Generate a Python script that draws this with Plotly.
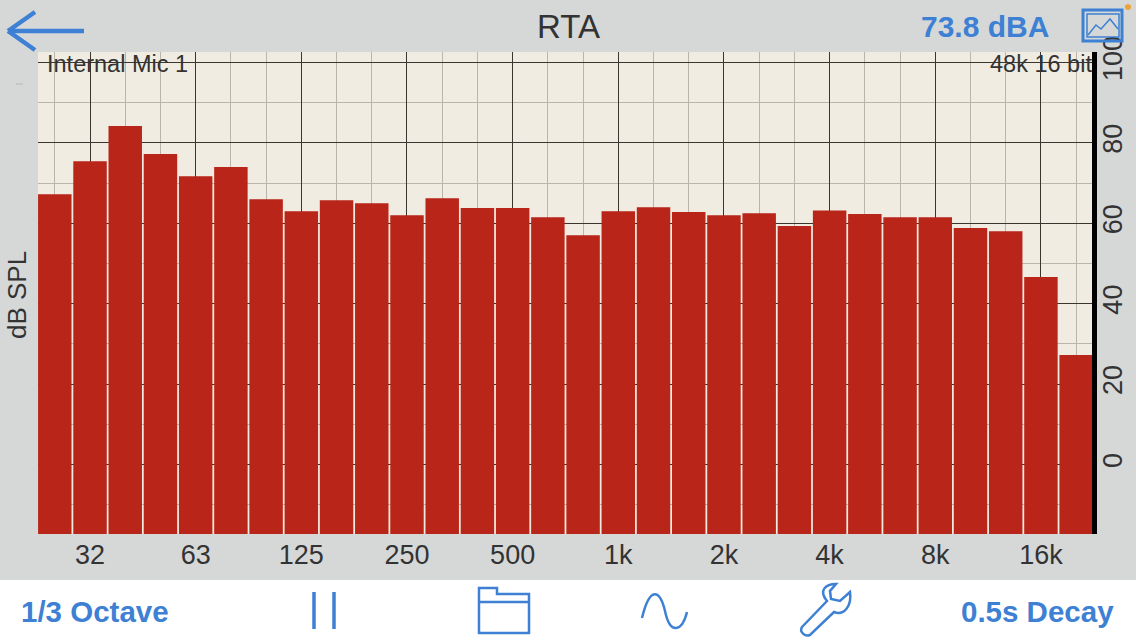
import plotly.graph_objects as go

W = 1136
H = 640

# 1/3 octave bands, 25 Hz to 20 kHz
bands = ['25', '32', '40', '50', '63', '80', '100', '125', '160', '200',
         '250', '315', '400', '500', '630', '800', '1k', '1.25k', '1.6k', '2k',
         '2.5k', '3.15k', '4k', '5k', '6.3k', '8k', '10k', '12.5k', '16k', '20k']
levels = [67.2, 75.4, 84.2, 77.2, 71.7, 74.0, 66.0, 63.0, 65.7, 65.0,
          62.0, 66.2, 63.8, 63.8, 61.5, 57.0, 63.0, 64.0, 62.8, 62.0,
          62.5, 59.3, 63.2, 62.3, 61.5, 61.5, 58.8, 58.0, 46.6, 27.2]
labelled_bands = ['32', '63', '125', '250', '500', '1k', '2k', '4k', '8k', '16k']
db_ticks = [0, 20, 40, 60, 80, 100]
db_minor = [-10, 10, 30, 50, 70, 90]
db_floor = -17.3
db_ceil = 102.6

BLUE = '#3d80d4'
RED = '#b92518'
GREY = '#d6d8d8'
CREAM = '#f0ece1'
INK = '#333333'
FONT = 'Liberation Sans'


def px(x):
    return x / W


def py(y):
    return 1 - y / H


def line(x0, y0, x1, y1, width=2.5, color=BLUE):
    return dict(type='line', xref='paper', yref='paper', x0=px(x0), y0=py(y0), x1=px(x1), y1=py(y1),
                line=dict(color=color, width=width))


def rect(x0, y0, x1, y1, width=2.5, color=BLUE, fill='rgba(0,0,0,0)', layer='above'):
    return dict(type='rect', xref='paper', yref='paper', x0=px(x0), y0=py(y0), x1=px(x1), y1=py(y1),
                line=dict(color=color, width=width), fillcolor=fill, layer=layer)


def path(points, width=2.5):
    # icon outline: list of svg commands with pixel coordinates
    parts = []
    for p in points:
        if isinstance(p, str):
            parts.append(p)
        else:
            parts.append(f'{px(p[0]):.5f},{py(p[1]):.5f}')
    return dict(type='path', xref='paper', yref='paper', path=' '.join(parts),
                line=dict(color=BLUE, width=width), fillcolor='rgba(0,0,0,0)')


def text(x, y, s, size, color=INK, bold=False, anchor='center', angle=0):
    if bold:
        s = f'<b>{s}</b>'
    return dict(xref='paper', yref='paper', x=px(x), y=py(y), text=s, showarrow=False, textangle=angle,
                xanchor=anchor, yanchor='middle', font=dict(family=FONT, size=size, color=color))


fig = go.Figure()
# bars start at the bottom of the plot, so heights are measured from there
fig.add_trace(go.Bar(x=list(range(len(bands))), y=[v - db_floor for v in levels], base=db_floor, width=0.95,
                     marker=dict(color=RED, line=dict(width=0))))

fig.update_layout(
    width=W, height=H, margin=dict(l=0, r=0, t=0, b=0),
    paper_bgcolor=GREY, plot_bgcolor=CREAM, showlegend=False,
    font=dict(family=FONT, color=INK),
)
fig.update_xaxes(
    domain=[px(38), px(1092)], range=[-0.477, 29.45], automargin=False,
    tickmode='array', tickvals=[bands.index(b) for b in labelled_bands], ticktext=labelled_bands,
    tickfont=dict(size=27, color=INK), ticks='', ticklabelstandoff=2,
    showgrid=True, gridcolor='#3a352e', gridwidth=1, zeroline=False, showline=False,
    minor=dict(tickmode='array', tickvals=[i for i, b in enumerate(bands) if b not in labelled_bands],
               showgrid=True, gridcolor='#b9b5ab', gridwidth=1, ticks=''),
)
fig.update_yaxes(
    domain=[1 - 534 / H, 1 - 52 / H], range=[db_floor, db_ceil], side='right', automargin=False,
    tickmode='array', tickvals=db_ticks, tickangle=-90,
    tickfont=dict(size=27, color=INK), ticks='', ticklabelstandoff=-7,
    showgrid=True, gridcolor='#3a352e', gridwidth=1, zeroline=False,
    showline=True, linecolor='black', linewidth=5,
    minor=dict(tickmode='array', tickvals=db_minor, showgrid=True, gridcolor='#b9b5ab', gridwidth=1, ticks=''),
)

shapes = [
    # white toolbar
    rect(0, 580, W, H, width=0, color=None, fill='white', layer='below'),
    # back arrow
    line(8, 31, 84, 31, 4.5), line(8, 31, 35, 12, 4.5), line(8, 31, 35, 50, 4.5),
    # stray tick left of the plot
    line(16, 84, 23, 84, 1, '#b5b7b7'),
    # image button
    rect(1083, 10, 1122, 41, 3), rect(1087, 14, 1119, 37, 1.5),
    path(['M', (1088, 35), 'L', (1096, 25), 'L', (1101, 29), 'L', (1110, 19), 'L', (1118, 29)], 1.5),
    dict(type='circle', xref='paper', yref='paper', x0=px(1125), y0=py(4), x1=px(1131), y1=py(10),
         fillcolor='#eda23a', line=dict(width=0)),
    # pause
    line(314, 592, 314, 629, 3.5), line(334, 592, 334, 629, 3.5),
    # folder
    path(['M', (479, 633), 'L', (479, 588), 'L', (497, 588), 'L', (497, 594), 'L', (529, 594), 'L', (529, 633), 'Z'], 2.5),
    line(479, 602, 529, 602, 2.5),
    # waveform
    path(['M', (642, 618), 'C', (650, 585), (660, 590), (665, 611), 'C', (670, 635), (682, 632), (687, 612)], 2.5),
    # wrench
    path(['M', (802, 627), 'L', (827, 601), 'C', (818, 590), (826, 584), (836, 584),
          'L', (830, 591), 'L', (831, 599), 'L', (840, 601), 'L', (850, 592),
          'C', (852, 606), (844, 616), (834, 612),
          'L', (810, 635), 'C', (805, 637), (799, 632), (802, 627), 'Z'], 2.5),
]
fig.update_layout(shapes=shapes)

fig.update_layout(annotations=[
    text(568, 26, 'RTA', 33),
    text(985, 26, '73.8 dBA', 30, BLUE, bold=True),
    text(45, 64, 'Internal Mic 1', 23.5, anchor='left'),
    text(1094, 64, '48k 16 bit', 23.5, anchor='right'),
    text(17, 295, 'dB SPL', 26, angle=-90),
    text(95, 611, '1/3 Octave', 29.5, BLUE, bold=True),
    text(1037, 611, '0.5s Decay', 29.5, BLUE, bold=True),
])

fig.write_html("out.html", config=dict(displayModeBar=False), post_script="document.body.style.margin='0';")
